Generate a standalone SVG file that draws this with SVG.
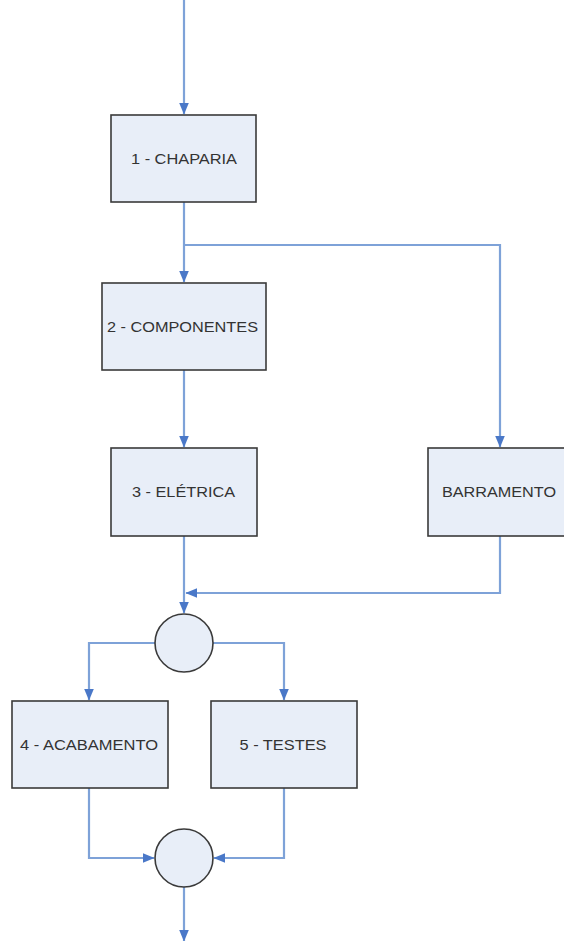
<svg xmlns="http://www.w3.org/2000/svg" width="564" height="941" viewBox="0 0 564 941">
<style>
.box{fill:#e8eef8;stroke:#3a3a3a;stroke-width:1.6}
.lbl{font-family:"Liberation Sans",Arial,sans-serif;font-size:15px;fill:#333;text-anchor:middle;dominant-baseline:central}
.ln{fill:none;stroke:#7ea2d8;stroke-width:2.2}
</style>
<defs>
<marker id="ah" markerUnits="userSpaceOnUse" markerWidth="12" markerHeight="12" viewBox="0 0 12 12" refX="11" refY="6" orient="auto">
<path d="M0,1.2 L11.5,6 L0,10.8 Z" fill="#4a78c8"/>
</marker>
</defs>
<rect width="564" height="941" fill="#fff"/>
<g id="connectors">
<path class="ln" d="M184,0 V114" marker-end="url(#ah)"/>
<path class="ln" d="M184,202 V282" marker-end="url(#ah)"/>
<path class="ln" d="M184,245 H500 V447" marker-end="url(#ah)"/>
<path class="ln" d="M184,370 V447" marker-end="url(#ah)"/>
<path class="ln" d="M184,536 V613" marker-end="url(#ah)"/>
<path class="ln" d="M500,536 V593 H186" marker-end="url(#ah)"/>
<path class="ln" d="M155,643 H89 V700" marker-end="url(#ah)"/>
<path class="ln" d="M213,643 H284 V700" marker-end="url(#ah)"/>
<path class="ln" d="M89,788 V858 H154" marker-end="url(#ah)"/>
<path class="ln" d="M284,788 V858 H214" marker-end="url(#ah)"/>
<path class="ln" d="M184,887 V941" marker-end="url(#ah)"/>
</g>
<g id="n1"><rect class="box" x="111" y="115" width="145" height="87"/><text class="lbl" x="184" y="158" textLength="106" lengthAdjust="spacingAndGlyphs">1 - CHAPARIA</text></g>
<g id="n2"><rect class="box" x="102" y="283" width="164" height="87"/><text class="lbl" x="182.5" y="326" textLength="151" lengthAdjust="spacingAndGlyphs">2 - COMPONENTES</text></g>
<g id="n3"><rect class="box" x="111" y="448" width="146" height="88"/><text class="lbl" x="183.5" y="491" textLength="103" lengthAdjust="spacingAndGlyphs">3 - ELÉTRICA</text></g>
<g id="nb"><rect class="box" x="428" y="448" width="146" height="88"/><text class="lbl" x="499" y="491" textLength="114" lengthAdjust="spacingAndGlyphs">BARRAMENTO</text></g>
<g id="c1"><circle class="box" cx="184" cy="643" r="29"/></g>
<g id="n4"><rect class="box" x="12" y="701" width="156" height="87"/><text class="lbl" x="89" y="744" textLength="138" lengthAdjust="spacingAndGlyphs">4 - ACABAMENTO</text></g>
<g id="n5"><rect class="box" x="211" y="701" width="146" height="87"/><text class="lbl" x="283" y="744" textLength="87" lengthAdjust="spacingAndGlyphs">5 - TESTES</text></g>
<g id="c2"><circle class="box" cx="184" cy="858" r="29"/></g>
</svg>
